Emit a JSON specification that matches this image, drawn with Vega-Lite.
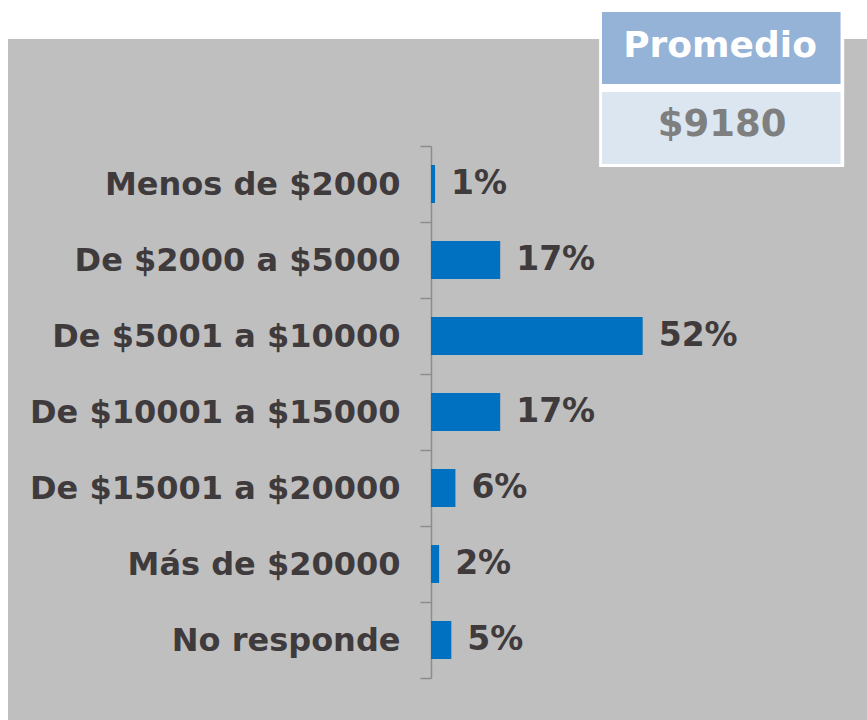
{
  "$schema": "https://vega.github.io/schema/vega-lite/v6.json",
  "width": 859,
  "height": 681,
  "autosize": {"type": "none"},
  "padding": {"left": 8, "top": 39, "right": 0, "bottom": 0},
  "background": "#ffffff",
  "config": {"view": {"fill": "#bfbfbf", "stroke": null}, "font": "DejaVu Sans"},
  "layer": [
    {
      "data": {
        "values": [
          {"rango": "Menos de $2000", "pct": 0.01},
          {"rango": "De $2000 a $5000", "pct": 0.17},
          {"rango": "De $5001 a $10000", "pct": 0.52},
          {"rango": "De $10001 a $15000", "pct": 0.17},
          {"rango": "De $15001 a $20000", "pct": 0.06},
          {"rango": "Más de $20000", "pct": 0.02},
          {"rango": "No responde", "pct": 0.05}
        ]
      },
      "encoding": {
        "y": {
          "field": "rango",
          "type": "nominal",
          "sort": null,
          "scale": {"range": [107, 639], "paddingInner": 0, "paddingOuter": 0},
          "axis": {
            "title": null,
            "offset": -423,
            "tickBand": "extent",
            "tickSize": 11,
            "tickWidth": 1.5,
            "tickColor": "#8c8c8c",
            "domainColor": "#8c8c8c",
            "domainWidth": 1.5,
            "labelPadding": 20,
            "labelFont": "DejaVu Sans",
            "labelFontWeight": "bold",
            "labelFontSize": 32,
            "labelColor": "#3f3a3b",
            "labelLimit": 0
          }
        }
      },
      "layer": [
        {
          "mark": {"type": "bar", "color": "#0070c0", "height": {"band": 0.5}},
          "encoding": {
            "x": {"field": "pct", "type": "quantitative", "scale": {"domain": [-1.039, 1.071], "nice": false, "zero": false}, "axis": null},
            "x2": {"datum": 0}
          }
        },
        {
          "mark": {"type": "text", "align": "left", "baseline": "middle", "dx": 16, "font": "DejaVu Sans", "fontWeight": "bold", "fontSize": 33, "color": "#3f3a3b"},
          "encoding": {
            "x": {"field": "pct", "type": "quantitative", "scale": {"domain": [-1.039, 1.071], "nice": false, "zero": false}, "axis": null},
            "text": {"field": "pct", "format": ".0%"}
          }
        }
      ]
    },
    {
      "data": {"values": [{"titulo": "Promedio", "monto": "$9180"}]},
      "layer": [
        {
          "mark": {"type": "rect", "color": "#ffffff"},
          "encoding": {
            "x": {"datum": 0.413, "type": "quantitative", "scale": {"domain": [-1.039, 1.071], "nice": false, "zero": false}, "axis": null},
            "x2": {"datum": 1.015},
            "y": {"datum": 10, "type": "quantitative", "scale": {"domain": [0, 720], "range": [-39, 681], "nice": false, "zero": false}, "axis": null},
            "y2": {"datum": 167}
          }
        },
        {
          "mark": {"type": "rect", "color": "#95b3d7"},
          "encoding": {
            "x": {"datum": 0.42, "type": "quantitative", "scale": {"domain": [-1.039, 1.071], "nice": false, "zero": false}, "axis": null},
            "x2": {"datum": 1.006},
            "y": {"datum": 12, "type": "quantitative", "scale": {"domain": [0, 720], "range": [-39, 681], "nice": false, "zero": false}, "axis": null},
            "y2": {"datum": 84}
          }
        },
        {
          "mark": {"type": "rect", "color": "#dce6f1"},
          "encoding": {
            "x": {"datum": 0.42, "type": "quantitative", "scale": {"domain": [-1.039, 1.071], "nice": false, "zero": false}, "axis": null},
            "x2": {"datum": 1.006},
            "y": {"datum": 92, "type": "quantitative", "scale": {"domain": [0, 720], "range": [-39, 681], "nice": false, "zero": false}, "axis": null},
            "y2": {"datum": 164}
          }
        },
        {
          "mark": {"type": "text", "align": "center", "baseline": "alphabetic", "font": "DejaVu Sans", "fontWeight": "bold", "fontSize": 36, "color": "#ffffff"},
          "encoding": {
            "x": {"datum": 0.71, "type": "quantitative", "scale": {"domain": [-1.039, 1.071], "nice": false, "zero": false}, "axis": null},
            "y": {"datum": 57, "type": "quantitative", "scale": {"domain": [0, 720], "range": [-39, 681], "nice": false, "zero": false}, "axis": null},
            "text": {"field": "titulo"}
          }
        },
        {
          "mark": {"type": "text", "align": "center", "baseline": "alphabetic", "font": "DejaVu Sans", "fontWeight": "bold", "fontSize": 37, "color": "#7f7f7f"},
          "encoding": {
            "x": {"datum": 0.715, "type": "quantitative", "scale": {"domain": [-1.039, 1.071], "nice": false, "zero": false}, "axis": null},
            "y": {"datum": 136, "type": "quantitative", "scale": {"domain": [0, 720], "range": [-39, 681], "nice": false, "zero": false}, "axis": null},
            "text": {"field": "monto"}
          }
        }
      ]
    }
  ],
  "resolve": {"scale": {"y": "independent"}}
}
